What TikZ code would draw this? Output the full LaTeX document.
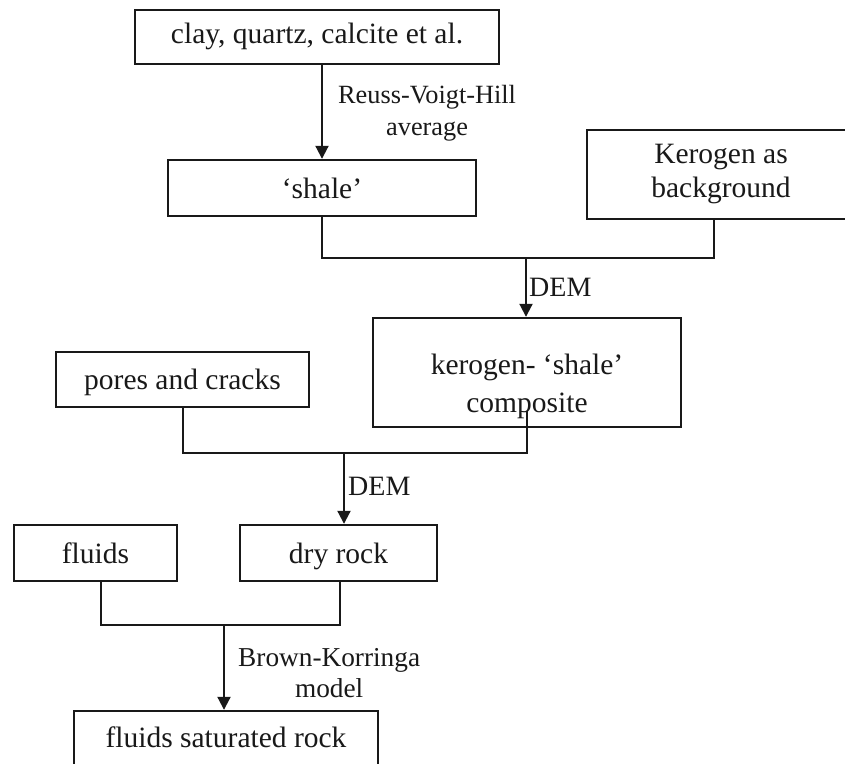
\documentclass[tikz,border=0pt]{standalone}
\usepackage{fontspec}
\setmainfont[Ligatures=NoCommon]{Liberation Serif}
\usetikzlibrary{arrows.meta}
\definecolor{ink}{RGB}{25,25,25}
\begin{document}
\begin{tikzpicture}[x=1pt,y=-1pt,
  box/.style={draw=ink,line width=2.4pt,rectangle,inner sep=0pt,align=center,text=ink,
    font=\fontsize{29.5}{36}\selectfont},
  oneline/.style={text height=24pt,text depth=4pt},
  txt/.style={inner sep=0pt,align=center,text=ink},
  conn/.style={draw=ink,line width=2pt},
  arr/.style={draw=ink,line width=2pt,-{Triangle[width=13pt,length=13pt]}}]
\fill[white] (0,0) rectangle (845,763);
\clip (0,0) rectangle (845,763);
% boxes
\node[box,text height=20pt,text depth=8pt,minimum width=364pt,minimum height=54pt] (clay) at (317,37) {clay, quartz, calcite et al.};
\node[box,oneline,minimum width=308pt,minimum height=56pt] (shale) at (322,188) {‘shale’};
\node[box,minimum width=268pt,minimum height=89pt,font=\fontsize{29.5}{34}\selectfont] (kero) at (721,174.5) {Kerogen as\\background};
\node[box,minimum width=308pt,minimum height=109pt] (comp) at (527,372.5) {};
\node[txt,font=\fontsize{29.5}{38}\selectfont] (comptext) at (527,386) {kerogen- ‘shale’\\composite};
\node[box,oneline,minimum width=253pt,minimum height=55pt] (pores) at (182.5,379.5) {pores and cracks};
\node[box,oneline,minimum width=163pt,minimum height=56pt] (fluids) at (95.5,553) {fluids};
\node[box,oneline,minimum width=197pt,minimum height=56pt] (dry) at (338.5,553) {dry rock};
\node[box,text height=22pt,text depth=6pt,minimum width=304pt,minimum height=56pt] (fsr) at (226,739) {fluids saturated rock};
% junctions
\coordinate (j1) at (526,258);
\coordinate (j2) at (344,453);
\coordinate (j3) at (224,625);
% connectors
\draw[arr] (clay.south -| shale.north) -- (shale.north);
\node[txt,anchor=west,font=\fontsize{26.3}{32}\selectfont] (rvh) at (338,113) {Reuss-Voigt-Hill\\average};
\draw[conn] (shale.south) |- (j1) -| ([xshift=-7pt]kero.south);
\draw[arr] (j1) -- (j1 |- comp.north);
\node[txt,anchor=west,font=\fontsize{28}{32}\selectfont] (dem1) at (529,287) {DEM};
\draw[conn] ([yshift=17pt]comp.south) |- (j2) -| (pores.south);
\draw[arr] (j2) -- (j2 |- dry.north);
\node[txt,anchor=west,font=\fontsize{28}{32}\selectfont] (dem2) at (348,486) {DEM};
\draw[conn] ([xshift=5pt]fluids.south) |- (j3) -| ([xshift=1.5pt]dry.south);
\draw[arr] (j3) -- (j3 |- fsr.north);
\node[txt,anchor=west,font=\fontsize{27.3}{31}\selectfont] (bk) at (238,673) {Brown-Korringa\\model};
\end{tikzpicture}
\end{document}
